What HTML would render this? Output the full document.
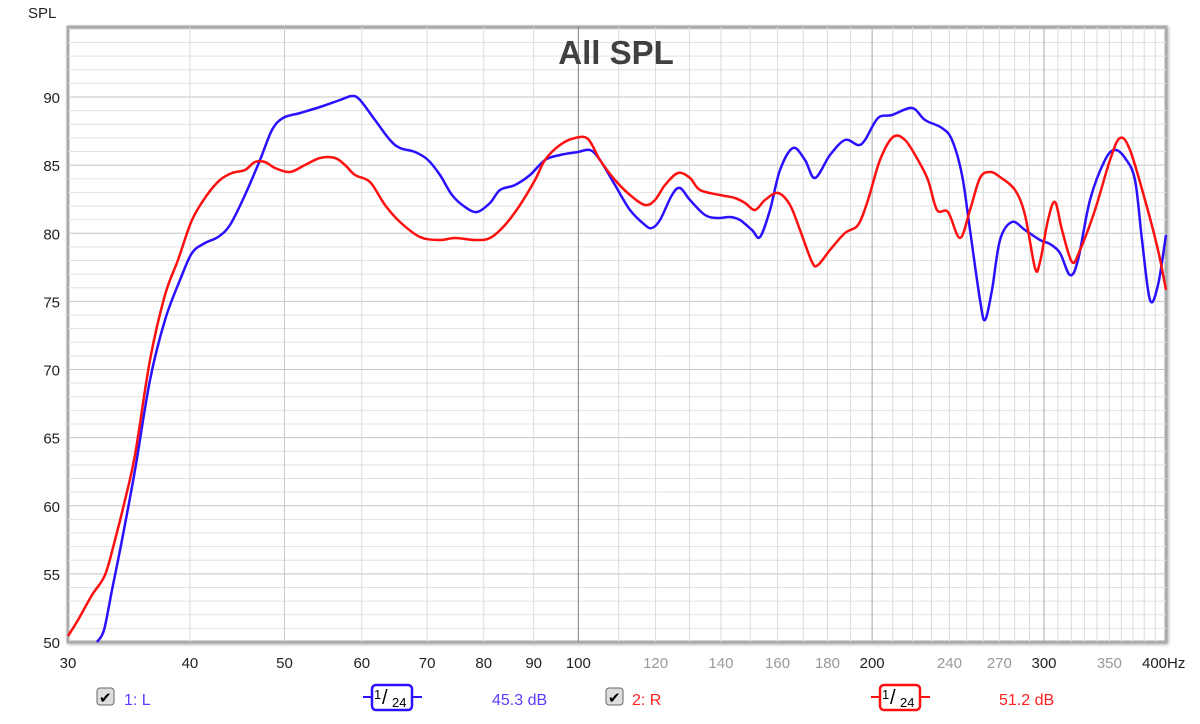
<!DOCTYPE html>
<html><head><meta charset="utf-8"><style>
body{margin:0;background:#fff;width:1200px;height:719px;overflow:hidden;font-family:"Liberation Sans",sans-serif}
</style></head><body>
<svg id="s" width="1200" height="719" xmlns="http://www.w3.org/2000/svg" font-family="Liberation Sans, sans-serif">
<defs><filter id="sh" x="-5%" y="-5%" width="110%" height="110%"><feDropShadow dx="1" dy="1" stdDeviation="1.5" flood-color="#888" flood-opacity="0.7"/></filter></defs>
<rect x="68" y="27" width="1098" height="615" fill="#fff" stroke="#aaa" stroke-width="3" filter="url(#sh)"/>
<g id="grid"></g>
<text x="616" y="64" font-size="33" font-weight="bold" fill="#404040" text-anchor="middle">All SPL</text>
<text x="28" y="18" font-size="15" fill="#222">SPL</text>
<g id="lab" font-size="15"></g>
<path id="blue" fill="none" stroke="#2a10ff" stroke-width="2.5"/>
<path id="red" fill="none" stroke="#ff1010" stroke-width="2.5"/>
<g font-size="16">
<rect x="97" y="688" width="17" height="17" rx="3" fill="#ddd" stroke="#666"/><text x="99" y="703" font-size="15">✔</text>
<text x="124" y="705" fill="#5a3cff">1: L</text>
<line x1="363" y1="697" x2="422" y2="697" stroke="#2a10ff" stroke-width="2"/>
<rect x="372" y="685" width="40" height="25" rx="4" fill="#fff" stroke="#2a10ff" stroke-width="2.5"/>
<text x="374" y="699" font-size="13">1</text><text x="382" y="704" font-size="20">/</text><text x="392" y="707" font-size="13">24</text>
<text x="492" y="705" fill="#5a3cff">45.3 dB</text>
<rect x="606" y="688" width="17" height="17" rx="3" fill="#ddd" stroke="#666"/><text x="608" y="703" font-size="15">✔</text>
<text x="632" y="705" fill="#ff2020">2: R</text>
<line x1="871" y1="697" x2="930" y2="697" stroke="#ff1010" stroke-width="2"/>
<rect x="880" y="685" width="40" height="25" rx="4" fill="#fff" stroke="#ff1010" stroke-width="2.5"/>
<text x="882" y="699" font-size="13">1</text><text x="890" y="704" font-size="20">/</text><text x="900" y="707" font-size="13">24</text>
<text x="999" y="705" fill="#ff2020">51.2 dB</text>
</g>
</svg>
<script>
var NS="http://www.w3.org/2000/svg";
function X(f){return 68+976*Math.log10(f/30);}
function Y(d){return 642-(d-50)*13.625;}
var g=document.getElementById('grid'),lab=document.getElementById('lab');
function ln(x1,y1,x2,y2,c,w){var l=document.createElementNS(NS,'line');l.setAttribute('x1',x1);l.setAttribute('y1',y1);l.setAttribute('x2',x2);l.setAttribute('y2',y2);l.setAttribute('stroke',c);l.setAttribute('stroke-width',w||1);g.appendChild(l);}
function tx(x,y,s,c,a){var t=document.createElementNS(NS,'text');t.setAttribute('x',x);t.setAttribute('y',y);t.setAttribute('fill',c);t.setAttribute('text-anchor',a);t.textContent=s;lab.appendChild(t);}
for(var d=51;d<=95;d++){ln(68,Y(d),1166,Y(d),d%5==0?'#c4c4c4':'#e2e2e2',1);}
for(var f=40;f<400;f+=10){var c=f==100?'#808080':(f==200||f==300)?'#a8a8a8':'#dadada';if(f%50==0&&f<100)c='#c8c8c8';ln(X(f),27,X(f),642,c,1);}
for(var d=50;d<=90;d+=5)tx(60,Y(d)+6,''+d,'#222','end');
[[30,1],[40,1],[50,1],[60,1],[70,1],[80,1],[90,1],[100,1],[120,0],[140,0],[160,0],[180,0],[200,1],[240,0],[270,0],[300,1],[350,0]].forEach(function(p){tx(X(p[0]),668,''+p[0],p[1]?'#222':'#999','middle');});
tx(1142,668,'400Hz','#222','start');
function path(pts){var s='M'+pts[0][0]+','+pts[0][1];for(var i=0;i<pts.length-1;i++){var p0=pts[i-1]||pts[i],p1=pts[i],p2=pts[i+1],p3=pts[i+2]||p2;s+=' C'+(p1[0]+(p2[0]-p0[0])/6)+','+(p1[1]+(p2[1]-p0[1])/6)+' '+(p2[0]-(p3[0]-p1[0])/6)+','+(p2[1]-(p3[1]-p1[1])/6)+' '+p2[0]+','+p2[1];}return s;}
var B=[[97,642],[104,630],[112,590],[122,540],[135,470],[150,380],[165,320],[180,280],[192,253],[205,243],[218,237],[230,225],[245,195],[260,160],[272,130],[283,118],[300,113],[320,107],[340,100],[352,96],[360,100],[375,120],[390,140],[400,148],[415,152],[428,160],[440,175],[452,195],[465,207],[477,212],[490,203],[500,190],[515,185],[530,175],[545,160],[560,155],[578,152],[590,150],[600,160],[615,185],[630,210],[645,225],[652,228],[660,220],[672,195],[680,188],[690,200],[705,215],[718,218],[730,217],[740,220],[752,230],[760,237],[770,210],[780,170],[793,148],[805,160],[815,178],[830,155],[845,140],[858,145],[865,140],[878,118],[892,115],[912,108],[925,120],[942,128],[952,140],[962,175],[970,230],[980,300],[985,320],[992,290],[1000,240],[1012,222],[1025,230],[1040,240],[1050,244],[1060,253],[1070,275],[1078,260],[1090,200],[1105,160],[1115,150],[1125,158],[1135,180],[1142,240],[1150,300],[1158,285],[1166,235]];
var R=[[68,636],[78,620],[92,595],[105,575],[115,540],[125,500],[135,455],[150,360],[165,295],[178,260],[192,220],[207,195],[220,180],[232,173],[245,170],[255,162],[265,162],[275,168],[290,172],[305,165],[320,158],[335,158],[345,165],[355,175],[370,182],[385,205],[400,222],[420,237],[440,240],[455,238],[475,240],[490,238],[505,225],[520,205],[535,180],[545,160],[560,145],[575,138],[588,139],[600,160],[615,180],[630,195],[645,205],[655,200],[665,185],[678,173],[690,178],[700,190],[720,195],[735,198],[745,203],[755,210],[765,200],[778,193],[790,205],[800,230],[812,262],[818,265],[830,250],[845,233],[858,225],[868,200],[880,160],[893,137],[905,140],[918,160],[928,180],[937,210],[948,212],[960,238],[970,210],[980,178],[990,172],[1000,177],[1015,190],[1025,215],[1035,268],[1040,262],[1048,220],[1055,202],[1062,230],[1072,262],[1080,250],[1095,210],[1110,160],[1120,138],[1130,150],[1145,200],[1158,250],[1166,290]];
document.getElementById('blue').setAttribute('d',path(B));
document.getElementById('red').setAttribute('d',path(R));
</script>
</body></html>
